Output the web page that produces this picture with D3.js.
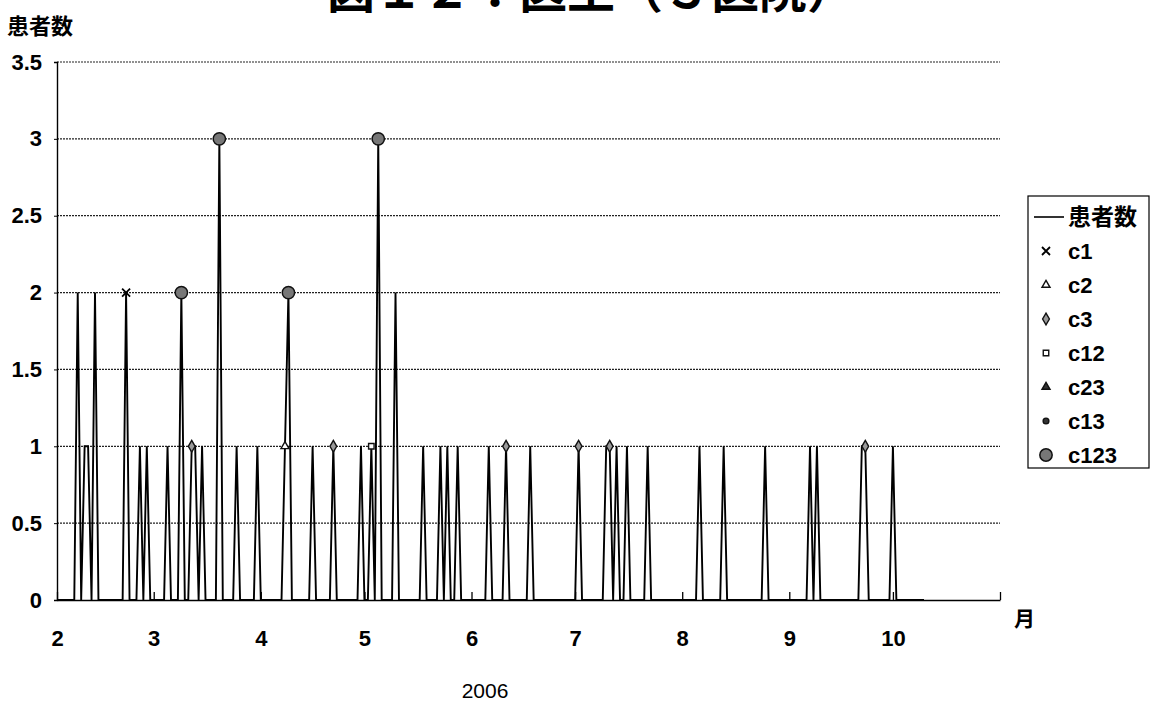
<!DOCTYPE html>
<html>
<head>
<meta charset="utf-8">
<script src="https://cdn.jsdelivr.net/npm/d3@7/dist/d3.min.js"></script>
<style>
  html, body { margin: 0; padding: 0; background: #fff; }
  svg { display: block; }
  .lat { font-family: "Liberation Sans", Arial, sans-serif; }
  .nar { font-family: "Liberation Sans Narrow", "Liberation Sans", Arial, sans-serif; }
  .jp { font-family: "Noto Sans CJK JP", sans-serif; }
</style>
</head>
<body>
<svg id="chart" width="1153" height="706"></svg>
<script>
// Daily patient counts (days not listed had no patients)
const caseDates = [
  "2006-02-07","2006-02-09","2006-02-10","2006-02-12","2006-02-21","2006-02-25","2006-02-27",
  "2006-03-05","2006-03-09","2006-03-12","2006-03-13","2006-03-15","2006-03-20","2006-03-25","2006-03-31",
  "2006-04-08","2006-04-09","2006-04-16","2006-04-22","2006-04-30",
  "2006-05-03","2006-05-05","2006-05-10","2006-05-18","2006-05-23","2006-05-25","2006-05-28",
  "2006-06-06","2006-06-11","2006-06-18",
  "2006-07-02","2006-07-10","2006-07-11","2006-07-13","2006-07-16","2006-07-22",
  "2006-08-06","2006-08-13","2006-08-25",
  "2006-09-07","2006-09-09","2006-09-22","2006-09-23",
  "2006-10-01"
];
const caseCounts = [
  2,1,1,2,2,1,1,
  1,2,1,1,1,3,1,1,
  1,2,1,1,1,
  1,3,2,1,1,1,1,
  1,1,1,
  1,1,1,1,1,1,
  1,1,1,
  1,1,1,1,
  1
];
const seriesStart = "2006-02-01";
const seriesEnd = "2006-10-10";

// Cluster markers: [date, value]
const c1 = [["2006-02-21", 2]];
const c2 = [["2006-04-08", 1]];
const c3 = [["2006-03-12", 1], ["2006-04-22", 1], ["2006-06-11", 1], ["2006-07-02", 1], ["2006-07-11", 1], ["2006-09-23", 1]];
const c12 = [["2006-05-03", 1]];
const c23 = [];
const c13 = [];
const c123 = [["2006-03-09", 2], ["2006-03-20", 3], ["2006-04-09", 2], ["2006-05-05", 3]];

const axisStart = "2006-02-01";
const axisEnd = "2006-11-01";
const yTicks = [0, 0.5, 1, 1.5, 2, 2.5, 3, 3.5];
const legendLabels = ["患者数", "c1", "c2", "c3", "c12", "c23", "c13", "c123"];

const titleText = "図１２：医王（３医院）";
const yTitle = "患者数";
const xUnit = "月";
const yearLabel = "2006";

const parse = d3.utcParse("%Y-%m-%d");
const svg = d3.select("#chart");

const plotLeft = 57, plotRight = 1000, plotTop = 62, plotBottom = 600;
const x = d3.scaleUtc().domain([parse(axisStart), parse(axisEnd)]).range([plotLeft, plotRight]);
const y = d3.scaleLinear().domain([0, 3.5]).range([plotBottom, plotTop]);

// full daily series
const countByDay = new Map(caseDates.map((d, i) => [d, caseCounts[i]]));
const fmt = d3.utcFormat("%Y-%m-%d");
const daily = d3.utcDay.range(parse(seriesStart), d3.utcDay.offset(parse(seriesEnd), 1))
  .map(d => ({ date: d, v: countByDay.get(fmt(d)) || 0 }));

// title, its upper part running off the top of the page
svg.append("text").attr("class", "jp")
  .attr("x", 327).attr("y", 8)
  .style("font-size", "48px").style("font-weight", "bold")
  .text(titleText);

// y title
svg.append("text").attr("class", "jp")
  .attr("x", 7).attr("y", 34)
  .style("font-size", "22px").style("font-weight", "bold")
  .text(yTitle);

// horizontal grid
svg.append("g").selectAll("line")
  .data(yTicks.filter(v => v > 0))
  .join("line")
  .attr("x1", plotLeft).attr("x2", plotRight)
  .attr("y1", d => y(d)).attr("y2", d => y(d))
  .attr("stroke", "#222").attr("stroke-width", 1.2)
  .attr("stroke-dasharray", "2,1");

// y axis
const yAxis = svg.append("g").attr("transform", `translate(${plotLeft},0)`)
  .call(d3.axisLeft(y).tickValues(yTicks).tickSize(3).tickFormat(d3.format("")));
yAxis.select(".domain").attr("stroke", "#000").attr("stroke-width", 1.4);
yAxis.selectAll(".tick line").attr("stroke", "#000");
yAxis.selectAll(".tick text")
  .attr("class", "nar").attr("x", -15)
  .style("font-size", "22px").style("font-weight", "bold").attr("fill", "#000");

// x axis: month ticks pointing into the plot
const monthTicks = d3.utcMonth.range(parse(axisStart), d3.utcDay.offset(parse(axisEnd), 1));
const xAxis = svg.append("g").attr("transform", `translate(0,${plotBottom})`)
  .call(d3.axisBottom(x).tickValues(monthTicks).tickSizeInner(-8).tickSizeOuter(0)
    .tickFormat(d => (+d === +parse(axisEnd) ? "" : d3.utcFormat("%-m")(d))));
xAxis.select(".domain").attr("stroke", "#000").attr("stroke-width", 1.4);
xAxis.selectAll(".tick line").attr("stroke", "#000").attr("stroke-width", 1.3);
xAxis.selectAll(".tick text")
  .attr("class", "nar").attr("y", 30)
  .style("font-size", "22px").style("font-weight", "bold").attr("fill", "#000");

svg.append("text").attr("class", "jp")
  .attr("x", 1014).attr("y", 626)
  .style("font-size", "21px").style("font-weight", "bold")
  .text(xUnit);

svg.append("text").attr("class", "lat")
  .attr("x", 485).attr("y", 698).attr("text-anchor", "middle")
  .style("font-size", "21px")
  .text(yearLabel);

// patient count line
const line = d3.line().x(d => x(d.date)).y(d => y(d.v));
svg.append("path")
  .datum(daily)
  .attr("d", line)
  .attr("fill", "none")
  .attr("stroke", "#000")
  .attr("stroke-width", 1.9)
  .attr("stroke-linejoin", "miter");

// marker shapes
const markerStyles = {
  c1:   { sym: null, size: 0 },
  c2:   { sym: d3.symbolTriangle, size: 28, fill: "#fff" },
  c3:   { sym: d3.symbolDiamond, size: 40, fill: "#999" },
  c12:  { sym: d3.symbolSquare, size: 30, fill: "#fff" },
  c23:  { sym: d3.symbolTriangle, size: 28, fill: "#333" },
  c13:  { sym: d3.symbolCircle, size: 26, fill: "#333" },
  c123: { sym: d3.symbolCircle, size: 120, fill: "#777" }
};

function drawMarker(g, key, cx, cy) {
  if (key === "c1") {
    const s = 4;
    g.append("path")
      .attr("d", `M${cx - s},${cy - s}L${cx + s},${cy + s}M${cx - s},${cy + s}L${cx + s},${cy - s}`)
      .attr("stroke", "#000").attr("stroke-width", 1.8);
    return;
  }
  const st = markerStyles[key];
  g.append("path")
    .attr("d", d3.symbol().type(st.sym).size(st.size)())
    .attr("transform", `translate(${cx},${cy})`)
    .attr("fill", st.fill)
    .attr("stroke", "#111")
    .attr("stroke-width", key === "c123" ? 1.5 : 1.4);
}

const markerSeries = { c1, c2, c3, c12, c23, c13, c123 };
const mg = svg.append("g");
Object.entries(markerSeries).forEach(([key, arr]) => {
  arr.forEach(([d, v]) => drawMarker(mg, key, x(parse(d)), y(v)));
});

// legend
const lg = svg.append("g");
const lgX = 1028, lgY = 196, lgW = 121, lgH = 272;
lg.append("rect").attr("x", lgX).attr("y", lgY).attr("width", lgW).attr("height", lgH)
  .attr("fill", "#fff").attr("stroke", "#000").attr("stroke-width", 1.2);
const rowY = d3.scalePoint().domain(legendLabels).range([217, 455]);
legendLabels.forEach(lbl => {
  const ry = rowY(lbl);
  if (lbl === "患者数") {
    lg.append("line").attr("x1", 1034).attr("x2", 1064).attr("y1", ry).attr("y2", ry)
      .attr("stroke", "#000").attr("stroke-width", 1.6);
    lg.append("text").attr("class", "jp").attr("x", 1068).attr("y", ry + 8)
      .style("font-size", "23px").style("font-weight", "bold").text(lbl);
  } else {
    drawMarker(lg, lbl, 1046, ry);
    lg.append("text").attr("class", "lat").attr("x", 1068).attr("y", ry + 8)
      .style("font-size", "22px").style("font-weight", "bold").text(lbl);
  }
});
</script>
</body>
</html>
